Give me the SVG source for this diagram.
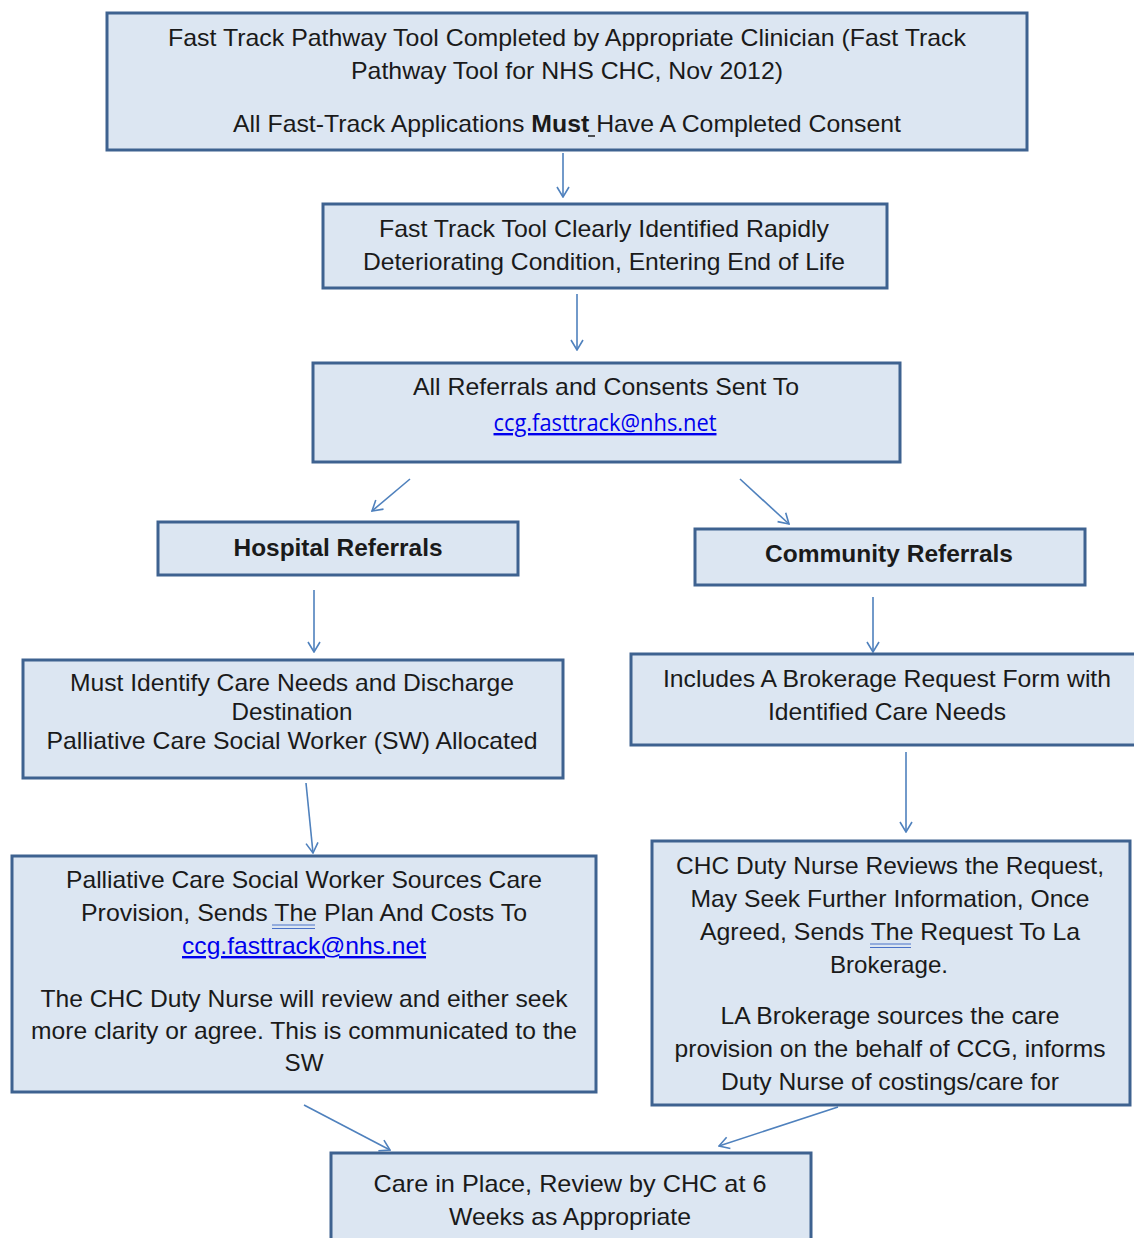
<svg xmlns="http://www.w3.org/2000/svg" width="1134" height="1238" viewBox="0 0 1134 1238">
  <style>
    .box { fill: #dce6f2; stroke: #3e6290; stroke-width: 3; }
    .t { font-family: "Liberation Sans", Arial, sans-serif; font-size: 24px; fill: #1a1a1a; text-anchor: middle; }
    .b { font-weight: bold; }
    .link { fill: #0000ee; text-decoration: underline; }
    .cal { font-family: "Open Sans", "Liberation Sans", sans-serif; }
    .conn line { stroke: #4f81bd; stroke-width: 1.6; fill: none; }
    .sq { stroke: #4a72c8; stroke-width: 1.2; }
  </style>
  <defs>
    <marker id="arrow" viewBox="0 0 12 14" refX="11" refY="7" markerWidth="12" markerHeight="14" markerUnits="userSpaceOnUse" orient="auto">
      <path d="M1,1 L11,7 L1,13" fill="none" stroke="#4f81bd" stroke-width="1.6"/>
    </marker>
  </defs>
  <rect width="1134" height="1238" fill="#ffffff"/>

  <g id="connectors" class="conn">
    <line x1="563" y1="153" x2="563" y2="197" marker-end="url(#arrow)"/>
    <line x1="577" y1="294" x2="577" y2="350" marker-end="url(#arrow)"/>
    <line x1="410" y1="479" x2="372" y2="511" marker-end="url(#arrow)"/>
    <line x1="740" y1="479" x2="789" y2="524" marker-end="url(#arrow)"/>
    <line x1="314" y1="590" x2="314" y2="652" marker-end="url(#arrow)"/>
    <line x1="873" y1="597" x2="873" y2="652" marker-end="url(#arrow)"/>
    <line x1="306" y1="783" x2="313" y2="853" marker-end="url(#arrow)"/>
    <line x1="906" y1="752" x2="906" y2="832" marker-end="url(#arrow)"/>
    <line x1="304" y1="1105" x2="390" y2="1150" marker-end="url(#arrow)"/>
    <line x1="838" y1="1107" x2="719" y2="1146" marker-end="url(#arrow)"/>
  </g>

  <g id="node-fast-track-tool">
    <rect class="box" x="107" y="13" width="920" height="137"/>
    <text class="t" x="567" y="46" textLength="798" lengthAdjust="spacingAndGlyphs">Fast Track Pathway Tool Completed by Appropriate Clinician (Fast Track</text>
    <text class="t" x="567" y="79" textLength="432" lengthAdjust="spacingAndGlyphs">Pathway Tool for NHS CHC, Nov 2012)</text>
    <text class="t" x="567" y="132" textLength="668" lengthAdjust="spacingAndGlyphs">All Fast-Track Applications <tspan class="b">Must</tspan> Have A Completed Consent</text>
    <line x1="588" y1="136" x2="595" y2="136" stroke="#1a1a1a" stroke-width="1.5"/>
  </g>

  <g id="node-rapid-deterioration">
    <rect class="box" x="323" y="204" width="564" height="84"/>
    <text class="t" x="604" y="237" textLength="450" lengthAdjust="spacingAndGlyphs">Fast Track Tool Clearly Identified Rapidly</text>
    <text class="t" x="604" y="270" textLength="482" lengthAdjust="spacingAndGlyphs">Deteriorating Condition, Entering End of Life</text>
  </g>

  <g id="node-referrals-sent">
    <rect class="box" x="313" y="363" width="587" height="99"/>
    <text class="t" x="606" y="395" textLength="386" lengthAdjust="spacingAndGlyphs">All Referrals and Consents Sent To</text>
    <text class="t cal link" x="605" y="431" font-size="21" textLength="223" lengthAdjust="spacingAndGlyphs">ccg.fasttrack@nhs.net</text>
  </g>

  <g id="node-hospital">
    <rect class="box" x="158" y="522" width="360" height="53"/>
    <text class="t b" x="338" y="556" textLength="209" lengthAdjust="spacingAndGlyphs">Hospital Referrals</text>
  </g>

  <g id="node-community">
    <rect class="box" x="695" y="529" width="390" height="56"/>
    <text class="t b" x="889" y="562" textLength="248" lengthAdjust="spacingAndGlyphs">Community Referrals</text>
  </g>

  <g id="node-care-needs">
    <rect class="box" x="23" y="660" width="540" height="118"/>
    <text class="t" x="292" y="691" textLength="444" lengthAdjust="spacingAndGlyphs">Must Identify Care Needs and Discharge</text>
    <text class="t" x="292" y="720" textLength="121" lengthAdjust="spacingAndGlyphs">Destination</text>
    <text class="t" x="292" y="749" textLength="491" lengthAdjust="spacingAndGlyphs">Palliative Care Social Worker (SW) Allocated</text>
  </g>

  <g id="node-brokerage-form">
    <rect class="box" x="631" y="654" width="512" height="91"/>
    <text class="t" x="887" y="687" textLength="448" lengthAdjust="spacingAndGlyphs">Includes A Brokerage Request Form with</text>
    <text class="t" x="887" y="720" textLength="238" lengthAdjust="spacingAndGlyphs">Identified Care Needs</text>
  </g>

  <g id="node-social-worker">
    <rect class="box" x="12" y="856" width="584" height="236"/>
    <text class="t" x="304" y="888" textLength="476" lengthAdjust="spacingAndGlyphs">Palliative Care Social Worker Sources Care</text>
    <text class="t" x="304" y="921" textLength="446" lengthAdjust="spacingAndGlyphs">Provision, Sends The Plan And Costs To</text>
    <line class="sq" x1="272" y1="925" x2="315" y2="925"/>
    <line class="sq" x1="272" y1="928.5" x2="315" y2="928.5"/>
    <text class="t link" x="304" y="954" textLength="244" lengthAdjust="spacingAndGlyphs">ccg.fasttrack@nhs.net</text>
    <text class="t" x="304" y="1007" textLength="527" lengthAdjust="spacingAndGlyphs">The CHC Duty Nurse will review and either seek</text>
    <text class="t" x="304" y="1039" textLength="546" lengthAdjust="spacingAndGlyphs">more clarity or agree. This is communicated to the</text>
    <text class="t" x="304" y="1071" textLength="39" lengthAdjust="spacingAndGlyphs">SW</text>
  </g>

  <g id="node-duty-nurse">
    <rect class="box" x="652" y="841" width="478" height="264"/>
    <text class="t" x="890" y="874" textLength="428" lengthAdjust="spacingAndGlyphs">CHC Duty Nurse Reviews the Request,</text>
    <text class="t" x="890" y="907" textLength="399" lengthAdjust="spacingAndGlyphs">May Seek Further Information, Once</text>
    <text class="t" x="890" y="940" textLength="380" lengthAdjust="spacingAndGlyphs">Agreed, Sends The Request To La</text>
    <line class="sq" x1="870" y1="944" x2="911" y2="944"/>
    <line class="sq" x1="870" y1="947.5" x2="911" y2="947.5"/>
    <text class="t" x="889" y="973" textLength="118" lengthAdjust="spacingAndGlyphs">Brokerage.</text>
    <text class="t" x="890" y="1024" textLength="339" lengthAdjust="spacingAndGlyphs">LA Brokerage sources the care</text>
    <text class="t" x="890" y="1057" textLength="431" lengthAdjust="spacingAndGlyphs">provision on the behalf of CCG, informs</text>
    <text class="t" x="890" y="1090" textLength="338" lengthAdjust="spacingAndGlyphs">Duty Nurse of costings/care for</text>
  </g>

  <g id="node-care-in-place">
    <rect class="box" x="331" y="1153" width="480" height="100"/>
    <text class="t" x="570" y="1192" textLength="393" lengthAdjust="spacingAndGlyphs">Care in Place, Review by CHC at 6</text>
    <text class="t" x="570" y="1225" textLength="242" lengthAdjust="spacingAndGlyphs">Weeks as Appropriate</text>
  </g>
</svg>
